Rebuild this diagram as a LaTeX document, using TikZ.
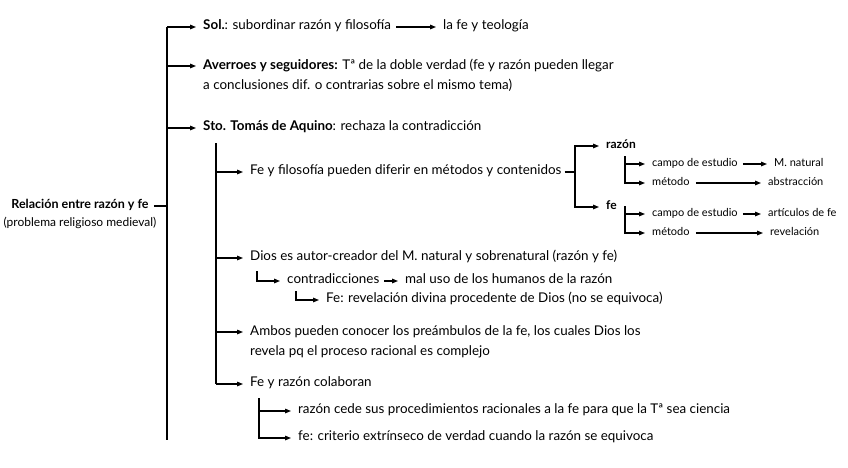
\documentclass[tikz,border=0pt]{standalone}
\usepackage{fontspec}
\setmainfont{Lato}
\usetikzlibrary{arrows.meta,calc}
\begin{document}
\begin{tikzpicture}[x=1pt,y=-1pt,
  every node/.style={inner xsep=0pt,inner ysep=0pt,text height=1.45ex,text depth=.3ex},
  big/.style={anchor=west,font=\fontsize{13.4}{20}\selectfont},
  sml/.style={anchor=west,font=\fontsize{11}{14}\selectfont},
  ln/.style={line width=1.1pt},
  arr/.style={line width=1.1pt,-{Triangle[length=6pt,width=4.6pt]},shorten >=7pt},
]
\useasboundingbox (0,0) rectangle (848,467);
\fill[white] (0,0) rectangle (848,467);
% spine
\coordinate (sTop) at (167,27);
\coordinate (sBot) at (167,440);
\draw[line width=1.4pt] (sTop) -- (sBot);
% root
\node[font=\fontsize{12.5}{15}\selectfont\bfseries] (root) at (80,206) {Relación entre razón y fe};
\node[font=\fontsize{12}{15}\selectfont] (rootsub) at (80,224) {(problema religioso medieval)};
\draw[ln] ([xshift=5pt]root.east) -- (root.east -| sTop);
% level 1
\node[big] (sol) at (203,27) {\textbf{Sol.}: subordinar razón y filosofía};
\node[big] (teo) at (443,27) {la fe y teología};
\draw[arr] (sTop) -- (sol.west);
\draw[arr] ([xshift=5pt]sol.east) -- (teo.west);
\node[big,anchor=north west,text height=,text depth=,align=left] (ave) at (203,59) {\textbf{Averroes y seguidores:} Tª de la doble verdad (fe y razón pueden llegar\\a conclusiones dif. o contrarias sobre el mismo tema)};
\coordinate (aveY) at (203,66);
\draw[arr] (sTop |- aveY) -- (aveY);
\node[big] (sto) at (203,128) {\textbf{Sto. Tomás de Aquino}: rechaza la contradicción};
\draw[arr] (sTop |- sto.west) -- (sto.west);
% level 2 spine
\coordinate (tTop) at (216,143);
\node[big] (ff) at (250,172) {Fe y filosofía pueden diferir en métodos y contenidos};
\node[big] (dios) at (250,258) {Dios es autor-creador del M. natural y sobrenatural (razón y fe)};
\node[big,anchor=north west,text height=,text depth=,align=left] (amb) at (250,325) {Ambos pueden conocer los preámbulos de la fe, los cuales Dios los\\revela pq el proceso racional es complejo};
\coordinate (ambY) at (250,332);
\node[big] (col) at (250,384) {Fe y razón colaboran};
\draw[ln] (tTop) -- (tTop |- col.west);
\draw[arr] (tTop |- ff.west) -- (ff.west);
\draw[arr] (tTop |- dios.west) -- (dios.west);
\draw[arr] (tTop |- ambY) -- (ambY);
\draw[arr] (tTop |- col.west) -- (col.west);
% ff branch
\coordinate (fJ) at (575,172);
\node[sml,font=\fontsize{12}{14}\selectfont\bfseries] (razon) at (606,146) {razón};
\node[sml,font=\fontsize{12}{14}\selectfont\bfseries] (fe) at (606,207) {fe};
\draw[ln] ([xshift=3pt]ff.east) -- (fJ);
\draw[arr] (fJ) |- (razon.west);
\draw[arr] (fJ) |- (fe.west);
% razon sub
\coordinate (rJ) at (625,156);
\node[sml] (rc) at (652,164) {campo de estudio};
\node[sml] (rm) at (652,183) {método};
\node[sml] (rnat) at (774,164) {M. natural};
\node[sml] (rabs) at (768,183) {abstracción};
\draw[arr] (rJ) |- (rc.west);
\draw[arr] (rJ) |- (rm.west);
\draw[arr] ([xshift=5pt]rc.east) -- (rnat.west);
\draw[arr] ([xshift=6pt]rm.east) -- (rabs.west);
% fe sub
\coordinate (fJ2) at (625,206);
\node[sml] (fc) at (652,214) {campo de estudio};
\node[sml] (fm) at (652,233) {método};
\node[sml] (fart) at (768,214) {artículos de fe};
\node[sml] (frev) at (770,233) {revelación};
\draw[arr] (fJ2) |- (fc.west);
\draw[arr] (fJ2) |- (fm.west);
\draw[arr] ([xshift=5pt]fc.east) -- (fart.west);
\draw[arr] ([xshift=6pt]fm.east) -- (frev.west);
% dios sub
\coordinate (dJ) at (257,271);
\node[big] (contr) at (287,281) {contradicciones};
\node[big] (mal) at (405,281) {mal uso de los humanos de la razón};
\draw[arr] (dJ) |- (contr.west);
\draw[arr] ([xshift=5pt]contr.east) -- (mal.west);
\coordinate (cJ) at (296,291);
\node[big] (rev) at (326,300) {Fe: revelación divina procedente de Dios (no se equivoca)};
\draw[arr] (cJ) |- (rev.west);
% col sub
\coordinate (kJ) at (259,398);
\node[big] (ced) at (298,411) {razón cede sus procedimientos racionales a la fe para que la Tª sea ciencia};
\node[big] (cri) at (298,438) {fe: criterio extrínseco de verdad cuando la razón se equivoca};
\draw[arr] (kJ) |- (ced.west);
\draw[arr] (kJ) |- (cri.west);
\end{tikzpicture}
\end{document}
